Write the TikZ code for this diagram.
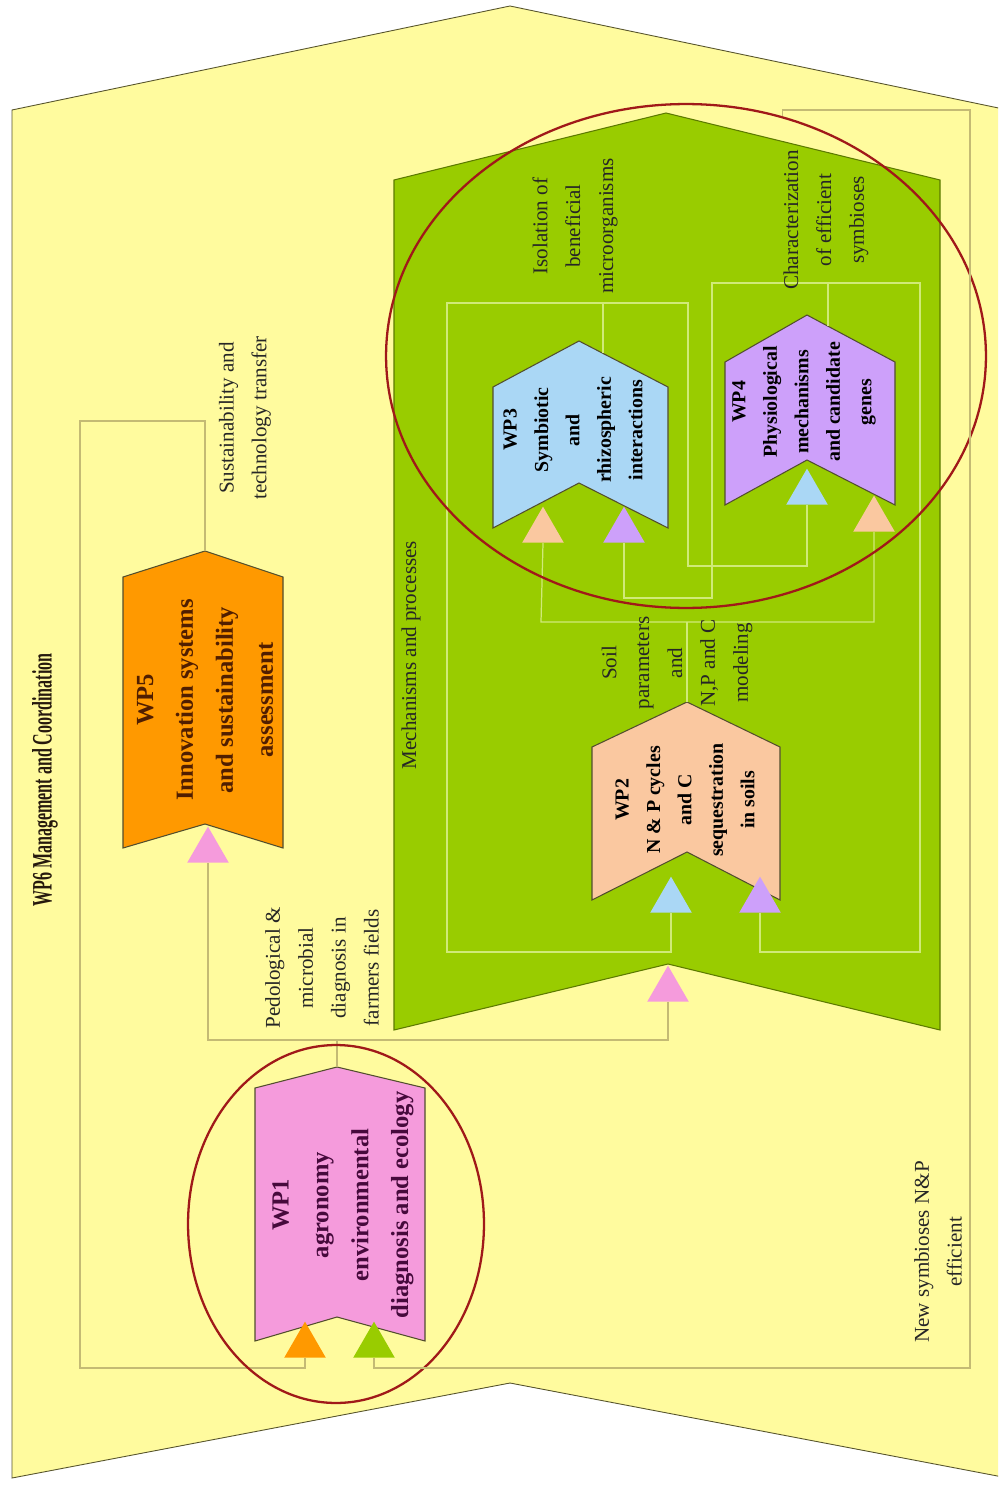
\documentclass[tikz,border=0pt]{standalone}
\usepackage{fontspec}
\setmainfont{Liberation Serif}
\usepackage{graphicx}
\usetikzlibrary{shapes.geometric}
\definecolor{paleyellow}{RGB}{255,251,158}
\definecolor{leafgreen}{RGB}{153,204,0}
\definecolor{wpfive}{RGB}{255,153,0}
\definecolor{wpone}{RGB}{245,155,220}
\definecolor{wptwo}{RGB}{250,200,160}
\definecolor{wpthree}{RGB}{170,215,245}
\definecolor{wpfour}{RGB}{205,160,250}
\definecolor{khaki}{RGB}{196,186,116}
\definecolor{paleline}{RGB}{208,234,120}
\definecolor{ringred}{RGB}{160,25,25}
\definecolor{browntext}{RGB}{80,30,0}
\definecolor{plumtext}{RGB}{70,10,60}
\tikzset{chev/.style={draw=black!55!olive, line width=0.6pt}}
\tikzset{link/.style={draw=khaki, line width=0.7pt}}
\tikzset{inlink/.style={draw=paleline, line width=0.7pt}}
\tikzset{tri/.style={regular polygon, regular polygon sides=3, minimum size=0.96cm, inner sep=0pt, anchor=south}}
\tikzset{ring/.style={draw=ringred, line width=1.3pt, ellipse, inner sep=0pt}}
\tikzset{wptext/.style={rotate=90, align=center, font=\bfseries\fontsize{11.3}{17.9}\selectfont}}
\tikzset{bigwp/.style={rotate=90, align=center, font=\bfseries\fontsize{14}{22.7}\selectfont}}
\tikzset{lbl/.style={rotate=90, align=center, text=black!85, font=\fontsize{12}{18.7}\selectfont}}

\begin{document}
\begin{tikzpicture}[x=0.02cm, y=0.02cm]
\useasboundingbox (0,0) rectangle (998,-1490);
\fill[white] (0,0) rectangle (998,-1490);
\clip (0,0) rectangle (998,-1490);

% outer frame
\draw[fill=paleyellow, draw=black!50!olive, line width=0.5pt] (12,-110) -- (510,-6) -- (1008,-110)
  -- (1008,-1478) -- (510,-1383) -- (12,-1478) -- cycle;

% mechanisms zone
\draw[fill=leafgreen, draw=black!40!leafgreen, line width=0.6pt] (394,-180) -- (666,-113) -- (940,-180)
  -- (940,-1030) -- (668,-964) -- (394,-1030) -- cycle;

% work packages
\draw[chev, fill=wpfive] (123,-577) -- (205,-551) -- (283,-577) -- (283,-848) -- (205,-824) -- (123,-848) -- cycle;
\draw[chev, fill=wpone] (255,-1088) -- (337,-1067) -- (425,-1088) -- (425,-1341) -- (337,-1317) -- (255,-1341) -- cycle;
\draw[chev, fill=wptwo] (592,-747) -- (687,-702) -- (780,-747) -- (780,-900) -- (687,-852) -- (592,-900) -- cycle;
\draw[chev, fill=wpthree] (493,-387) -- (579,-341) -- (668,-387) -- (668,-528) -- (579,-483) -- (493,-528) -- cycle;
\draw[chev, fill=wpfour] (725,-362) -- (807,-315) -- (895,-362) -- (895,-505) -- (807,-460) -- (725,-505) -- cycle;

\coordinate (wp5top) at (205,-551);
\coordinate (wp1top) at (337,-1067);
\coordinate (wp2top) at (687,-702);
\coordinate (wp3out) at (603,-353);
\coordinate (wp4out) at (828,-326);

% input marks
\node[tri, fill=wpfive] (to1) at (305,-1358) {};
\node[tri, fill=leafgreen] (tg1) at (374,-1358) {};
\node[tri, fill=wpone] (tk5) at (208,-863) {};
\node[tri, fill=wpone] (tkm) at (668,-1002) {};
\node[tri, fill=wpthree] (tb2) at (671,-913) {};
\node[tri, fill=wpfour] (tp2) at (760,-913) {};
\node[tri, fill=wptwo] (to3) at (543,-543) {};
\node[tri, fill=wpfour] (tp3) at (624,-543) {};
\node[tri, fill=wpthree] (tb4) at (807,-505) {};
\node[tri, fill=wptwo] (to4) at (874,-532) {};

% links on the frame
\draw[link] (wp5top) -- (205,-421) -- (80,-421) -- (80,-1368) -- (305,-1368) -- (to1.south);
\draw[link] (wp1top) -- (337,-1040);
\draw[link] (tk5.south) -- (208,-1040) -- (668,-1040) -- (tkm.south);

% links inside the zone
\draw[inlink] (wp3out) -- (603,-303);
\draw[inlink] (tb2.south) -- (671,-952) -- (447,-952) -- (447,-303) -- (688,-303) -- (688,-566) -- (807,-566) -- (tb4.south);
\draw[inlink] (wp4out) -- (828,-283);
\draw[inlink] (tp2.south) -- (760,-952) -- (920,-952) -- (920,-283) -- (712,-283) -- (712,-598) -- (624,-598) -- (tp3.south);
\draw[inlink] (wp2top) -- (687,-622);
\draw[inlink] (to3.south) -- (541,-622) -- (874,-622) -- (to4.south);

% texts
\node[rotate=90, text=black!80!brown] (wp6) at (45,-780)
  {\scalebox{0.57}[1]{\bfseries\fontsize{16}{18}\selectfont WP6 Management and Coordination}};
\node[bigwp, text=browntext] (wp5) at (205,-700) {WP5\\Innovation systems\\and sustainability\\assessment};
\node[bigwp, text=plumtext] (wp1) at (343,-1205) {WP1\\agronomy\\environmental\\diagnosis and ecology};
\node[wptext] (wp2) at (685,-800) {WP2\\N \& P cycles\\and C\\sequestration\\in soils};
\node[wptext] (wp3) at (573,-430) {WP3\\Symbiotic\\and\\rhizospheric\\interactions};
\node[wptext] (wp4) at (804,-402) {WP4\\Physiological\\mechanisms\\and candidate\\genes};

\node[lbl] (sust) at (245,-418) {Sustainability and\\technology transfer};
\node[lbl] (pedo) at (322,-968) {Pedological \&\\microbial\\diagnosis in\\farmers fields};
\node[lbl] (mech) at (411,-655) {Mechanisms and processes};
\node[lbl] (isol) at (575,-226) {Isolation of\\beneficial\\microorganisms};
\node[lbl] (chara) at (826,-220) {Characterization\\of efficient\\symbioses};
\node[lbl] (soil) at (677,-663) {Soil\\parameters\\and\\N,P and C\\modeling};
\node[lbl] (newsym) at (938,-1252) {New symbioses N\&P\\efficient};

% groups
\node[ring, minimum width=12cm, minimum height=10.08cm] (grp34) at (686,-356) {};
\node[ring, minimum width=5.92cm, minimum height=7.16cm] (grp1) at (336,-1224) {};

\draw[link] (grp34.68) |- (970,-110) -- (970,-1368) -- (374,-1368) -- (tg1.south);
\end{tikzpicture}
\end{document}
